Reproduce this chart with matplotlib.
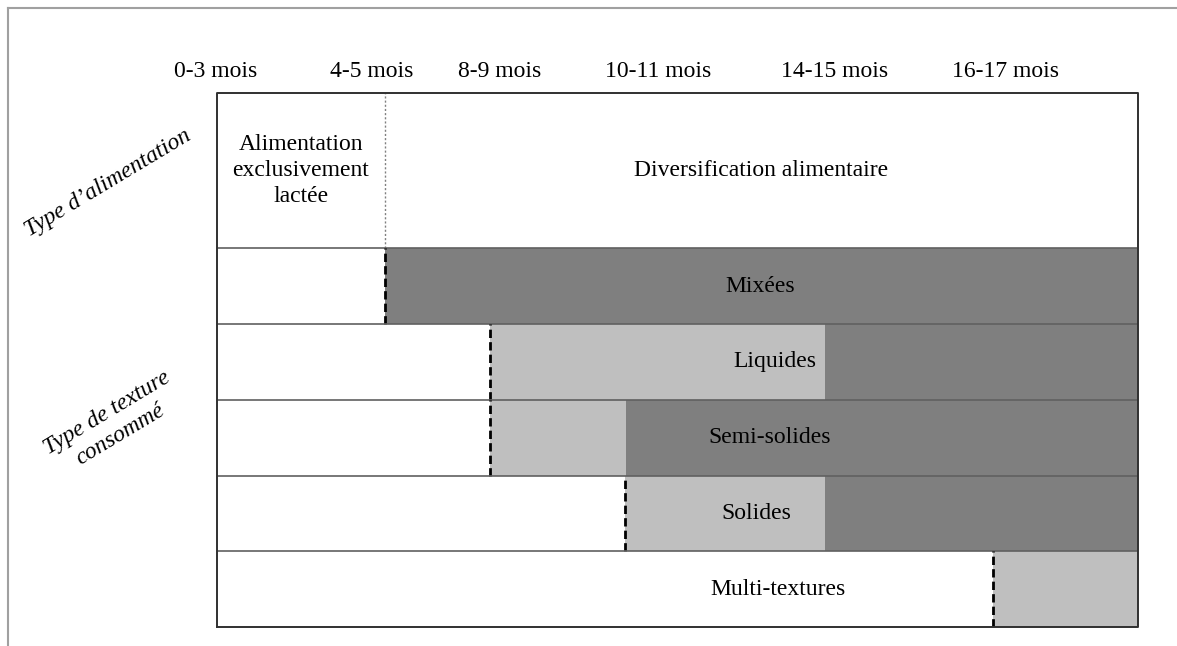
import matplotlib.pyplot as plt
from matplotlib.lines import Line2D

plt.rcParams['font.family'] = ['Liberation Serif', 'DejaVu Serif']

# positions on an arbitrary 0-100 age scale (box width)
age_labels = ['0-3 mois', '4-5 mois', '8-9 mois', '10-11 mois', '14-15 mois', '16-17 mois']
age_pos = [-0.1, 16.8, 30.7, 47.9, 67.1, 85.6]

# texture rows: start of light grey, start of dark grey, label x
textures = ['Mixées', 'Liquides', 'Semi-solides', 'Solides', 'Multi-textures']
light_start = [18.2, 29.6, 29.6, 44.3, 84.3]
dark_start = [18.2, 66.0, 44.4, 66.0, 100.0]
label_x = [59.0, 60.6, 60.0, 58.6, 60.9]

diversif_start = 18.2

DARK = '#7f7f7f'
LIGHT = '#bfbfbf'
FS = 17

fig = plt.figure(figsize=(11.77, 6.46), dpi=100)
W, H = 1177, 646
ax = fig.add_axes([217 / W, 1 - 627 / H, 921 / W, (627 - 93) / H])
ax.set_xlim(0, 100)
top_h = 2.05
n = len(textures)
ax.set_ylim(0, n + top_h)
ax.axis('off')

# top row: type d'alimentation
y0 = n
ax.plot([diversif_start, diversif_start], [y0, y0 + top_h], color='#808080', lw=1, ls=(0, (1.5, 1.5)))
ax.text(diversif_start / 2, y0 + top_h / 2, 'Alimentation\nexclusivement\nlactée', ha='center', va='center',
        fontsize=FS, linespacing=1.32)
ax.text((diversif_start + 100) / 2, y0 + top_h / 2, 'Diversification alimentaire', ha='center', va='center',
        fontsize=FS)

for i, name in enumerate(textures):
    yb = n - 1 - i
    ls, ds = light_start[i], dark_start[i]
    if ds > ls:
        ax.barh(yb, ds - ls, left=ls, height=1, align='edge', color=LIGHT, lw=0)
    if ds < 100:
        ax.barh(yb, 100 - ds, left=ds, height=1, align='edge', color=DARK, lw=0)
    ax.plot([0, 100], [yb + 1, yb + 1], color='#606060', lw=1.2)
    ax.plot([ls, ls], [yb, yb + 1], color='black', lw=2, ls=(0, (3, 1.5)))
    ax.text(label_x[i], yb + 0.5, name, ha='center', va='center', fontsize=FS)

# outer box
ax.plot([0, 100, 100, 0, 0], [0, 0, n + top_h, n + top_h, 0], color='#303030', lw=1.4, clip_on=False)

for lab, x in zip(age_labels, age_pos):
    ax.text(x, n + top_h + 0.29, lab, ha='center', va='center', fontsize=FS, clip_on=False)

fig.text(108 / W, 1 - 183 / H, 'Type d\u2019alimentation', rotation=31, ha='center', va='center',
         fontsize=FS, style='italic')
fig.text(114 / W, 1 - 424 / H, 'Type de texture\nconsommé', rotation=31, ha='center', va='center',
         fontsize=FS, style='italic', linespacing=1.3)

# page frame (top and left only)
fig.add_artist(Line2D([8 / W, 1], [1 - 8 / H, 1 - 8 / H], transform=fig.transFigure, color='#a0a0a0', lw=1.5))
fig.add_artist(Line2D([8 / W, 8 / W], [0, 1 - 8 / H], transform=fig.transFigure, color='#a0a0a0', lw=1.5))

fig.savefig('out.png', dpi=100)
